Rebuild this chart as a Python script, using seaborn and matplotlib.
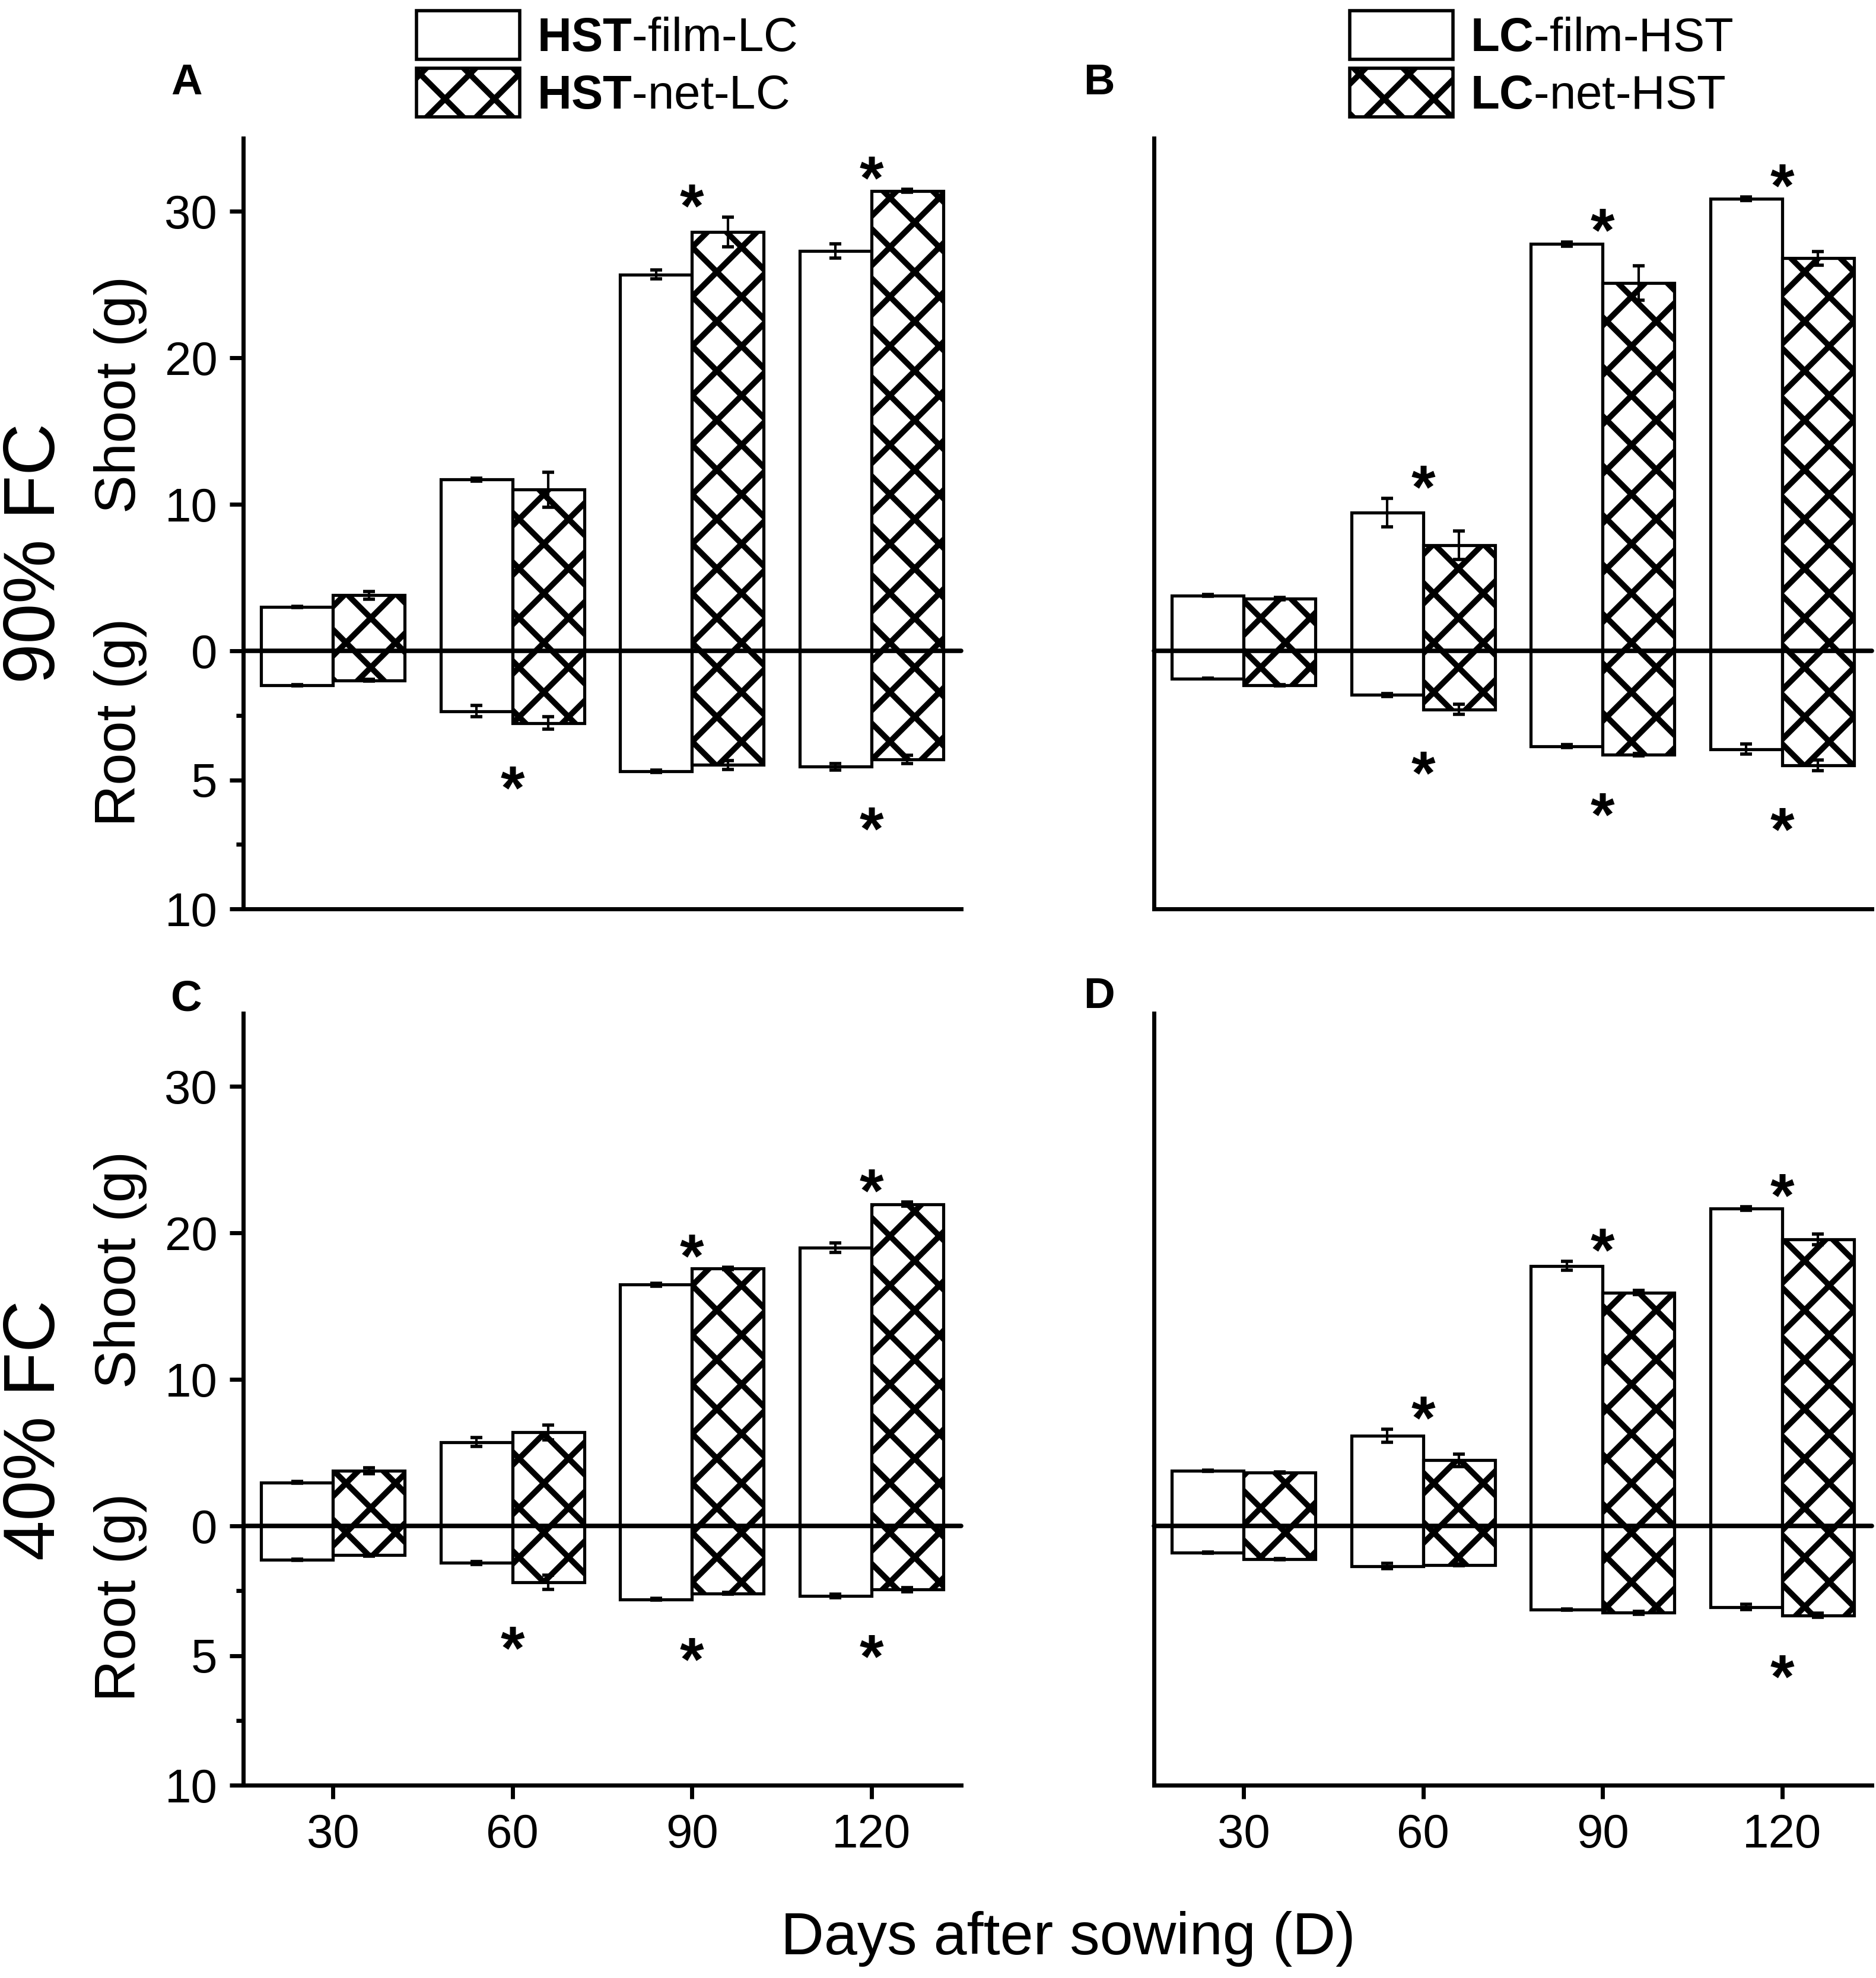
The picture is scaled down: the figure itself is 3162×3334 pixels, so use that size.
import matplotlib
matplotlib.use("Agg")
import matplotlib.pyplot as plt
from matplotlib.patches import Patch
import numpy as np
import pandas as pd
import seaborn as sns

DAYS = ["30", "60", "90", "120"]
COVERS = ["film", "net"]

# Panel A: 90% FC, HST-film/net-LC
A_SHOOT_FILM = [3.0, 11.7, 25.7, 27.3]
A_SHOOT_FILM_ERR = [0.05, 0.1, 0.3, 0.5]
A_SHOOT_NET = [3.8, 11.0, 28.6, 31.4]
A_SHOOT_NET_ERR = [0.27, 1.2, 1.0, 0.1]
A_ROOT_FILM = [1.33, 2.34, 4.67, 4.49]
A_ROOT_FILM_ERR = [0.03, 0.22, 0.04, 0.12]
A_ROOT_NET = [1.14, 2.8, 4.42, 4.21]
A_ROOT_NET_ERR = [0.03, 0.24, 0.17, 0.16]
A_SIG_SHOOT = [False, False, True, True]
A_SIG_ROOT = [False, True, False, True]

# Panel B: 90% FC, LC-film/net-HST
B_SHOOT_FILM = [3.78, 9.44, 27.78, 30.86]
B_SHOOT_FILM_ERR = [0.05, 0.96, 0.15, 0.12]
B_SHOOT_NET = [3.57, 7.22, 25.11, 26.8]
B_SHOOT_NET_ERR = [0.08, 0.98, 1.17, 0.47]
B_ROOT_FILM = [1.07, 1.71, 3.69, 3.81]
B_ROOT_FILM_ERR = [0.02, 0.05, 0.05, 0.19]
B_ROOT_NET = [1.33, 2.27, 4.02, 4.44]
B_ROOT_NET_ERR = [0.03, 0.19, 0.05, 0.21]
B_SIG_SHOOT = [False, True, True, True]
B_SIG_ROOT = [False, True, True, True]

# Panel C: 40% FC, HST-film/net-LC
C_SHOOT_FILM = [2.97, 5.73, 16.47, 19.0]
C_SHOOT_FILM_ERR = [0.05, 0.29, 0.1, 0.31]
C_SHOOT_NET = [3.77, 6.39, 17.58, 21.97]
C_SHOOT_NET_ERR = [0.2, 0.5, 0.08, 0.15]
C_ROOT_FILM = [1.3, 1.43, 2.83, 2.7]
C_ROOT_FILM_ERR = [0.02, 0.06, 0.04, 0.06]
C_ROOT_NET = [1.13, 2.18, 2.6, 2.45]
C_ROOT_NET_ERR = [0.03, 0.27, 0.04, 0.08]
C_SIG_SHOOT = [False, False, True, True]
C_SIG_ROOT = [False, True, True, True]

# Panel D: 40% FC, LC-film/net-HST
D_SHOOT_FILM = [3.77, 6.17, 17.75, 21.66]
D_SHOOT_FILM_ERR = [0.03, 0.44, 0.3, 0.12]
D_SHOOT_NET = [3.64, 4.48, 15.93, 19.57]
D_SHOOT_NET_ERR = [0.05, 0.44, 0.15, 0.35]
D_ROOT_FILM = [1.03, 1.55, 3.23, 3.13]
D_ROOT_FILM_ERR = [0.02, 0.1, 0.03, 0.1]
D_ROOT_NET = [1.28, 1.5, 3.35, 3.45]
D_ROOT_NET_ERR = [0.02, 0.03, 0.06, 0.08]
D_SIG_SHOOT = [False, True, True, True]
D_SIG_ROOT = [False, False, False, True]

LEGEND_LEFT = [r"$\mathbf{HST}$-film-LC", r"$\mathbf{HST}$-net-LC"]
LEGEND_RIGHT = [r"$\mathbf{LC}$-film-HST", r"$\mathbf{LC}$-net-HST"]

FIG_W, FIG_H, DPI = 3162, 3334, 500
EDGE_LW = 0.75
HATCH = "xx"
STAR_FS = 15
SHOOT_GAP = 1.8
ROOT_GAP = 1.7

sns.set_theme(style="ticks")
plt.rcParams.update({
    "font.family": ["Liberation Sans", "DejaVu Sans"],
    "mathtext.fontset": "custom",
    "mathtext.rm": "Liberation Sans",
    "mathtext.bf": "Liberation Sans:bold",
    "font.size": 11.5,
    "text.color": "black",
    "axes.labelcolor": "black",
    "axes.linewidth": 1.0,
    "axes.edgecolor": "black",
    "xtick.labelsize": 11.5,
    "ytick.labelsize": 11.5,
    "xtick.color": "black",
    "ytick.color": "black",
    "xtick.major.size": 3.3,
    "ytick.major.size": 3.3,
    "ytick.minor.size": 1.8,
    "xtick.major.width": 1.0,
    "ytick.major.width": 1.0,
    "ytick.minor.width": 1.0,
    "xtick.major.pad": 3.5,
    "ytick.major.pad": 3.0,
    "xtick.direction": "out",
    "ytick.direction": "out",
    "hatch.linewidth": 1.4,
    "hatch.color": "black",
})


def make_frame(shoot_film, shoot_net, root_film, root_net):
    rows = []
    for i, day in enumerate(DAYS):
        rows.append({"day": day, "cover": "film", "shoot": shoot_film[i], "root": root_film[i]})
        rows.append({"day": day, "cover": "net", "shoot": shoot_net[i], "root": root_net[i]})
    return pd.DataFrame(rows)


def px_box(left, top, right, bottom):
    return [left / FIG_W, 1 - bottom / FIG_H, (right - left) / FIG_W, (bottom - top) / FIG_H]


def draw_bars(ax, df, col, errs):
    sns.barplot(data=df, x="day", y=col, hue="cover", order=DAYS, hue_order=COVERS,
                palette={"film": "white", "net": "white"}, saturation=1,
                edgecolor="black", linewidth=EDGE_LW, errorbar=None,
                width=0.8, legend=False, ax=ax)
    for cover, cont, err in zip(COVERS, ax.containers, errs):
        xs = [p.get_x() + p.get_width() / 2 for p in cont]
        vals = df.loc[df["cover"] == cover, col].to_numpy()
        if cover == "net":
            for p in cont:
                p.set_hatch(HATCH)
        ax.errorbar(xs, vals, yerr=err, fmt="none", ecolor="black", elinewidth=0.6,
                    capsize=1.4, capthick=0.8, zorder=5)


def add_stars(ax, film, film_err, net, net_err, flags, gap):
    tops = np.maximum(np.add(film, film_err), np.add(net, net_err))
    for i, (top, flag) in enumerate(zip(tops, flags)):
        if flag:
            ax.annotate("*", xy=(i, top + gap), xytext=(0, -0.58 * STAR_FS),
                        textcoords="offset points", ha="center", va="baseline",
                        fontsize=STAR_FS, fontweight="bold", annotation_clip=False)


def draw_panel(fig, box_x, box_y, data, show_y, show_x):
    (sf, sfe, sn, sne, rf, rfe, rn, rne, sig_s, sig_r) = data
    left, right = box_x
    top, zero, bottom = box_y
    ax_s = fig.add_axes(px_box(left, top, right, zero))
    ax_r = fig.add_axes(px_box(left, zero, right, bottom))
    for ax in (ax_s, ax_r):
        ax.set_facecolor("none")
    # shoot axes (with the zero line) drawn above the root bars
    ax_s.set_zorder(ax_r.get_zorder() + 1)
    df = make_frame(sf, sn, rf, rn)

    draw_bars(ax_s, df, "shoot", [sfe, sne])
    draw_bars(ax_r, df, "root", [rfe, rne])

    ax_s.set_ylim(0, 35)
    ax_r.set_ylim(10, 0)
    ax_s.set_xlim(-0.5, 3.5)
    ax_r.set_xlim(-0.5, 3.5)
    ax_s.axhline(0, color="black", lw=1.1, clip_on=False, zorder=6)

    sns.despine(ax=ax_s, bottom=True)
    sns.despine(ax=ax_r)
    ax_s.tick_params(axis="x", bottom=False, labelbottom=False)
    ax_s.set_xlabel("")
    ax_r.set_xlabel("")

    if show_y:
        ax_s.set_yticks([0, 10, 20, 30])
        ax_r.set_yticks([5, 10])
        ax_r.set_yticks([2.5, 7.5], minor=True)
        ax_s.set_ylabel("Shoot (g)", fontsize=14)
        ax_r.set_ylabel("Root (g)", fontsize=14)
        ax_s.yaxis.set_label_coords(-0.134, 0.5)
        ax_r.yaxis.set_label_coords(-0.134, 0.724)
    else:
        ax_s.set_ylabel("")
        ax_r.set_ylabel("")
        ax_s.tick_params(axis="y", left=False, labelleft=False)
        ax_r.tick_params(axis="y", which="both", left=False, labelleft=False)

    if show_x:
        ax_r.tick_params(axis="x", bottom=True, labelbottom=True)
    else:
        ax_r.tick_params(axis="x", bottom=False, labelbottom=False)

    add_stars(ax_s, sf, sfe, sn, sne, sig_s, SHOOT_GAP)
    add_stars(ax_r, rf, rfe, rn, rne, sig_r, ROOT_GAP)


fig = plt.figure(figsize=(FIG_W / DPI, FIG_H / DPI), dpi=DPI)

COL_LEFT = (410, 1620)
COL_RIGHT = (1945, 3155)
ROW_TOP = (233, 1097, 1532)
ROW_BOTTOM = (1708, 2572, 3009)

draw_panel(fig, COL_LEFT, ROW_TOP,
           (A_SHOOT_FILM, A_SHOOT_FILM_ERR, A_SHOOT_NET, A_SHOOT_NET_ERR,
            A_ROOT_FILM, A_ROOT_FILM_ERR, A_ROOT_NET, A_ROOT_NET_ERR, A_SIG_SHOOT, A_SIG_ROOT),
           show_y=True, show_x=False)
draw_panel(fig, COL_RIGHT, ROW_TOP,
           (B_SHOOT_FILM, B_SHOOT_FILM_ERR, B_SHOOT_NET, B_SHOOT_NET_ERR,
            B_ROOT_FILM, B_ROOT_FILM_ERR, B_ROOT_NET, B_ROOT_NET_ERR, B_SIG_SHOOT, B_SIG_ROOT),
           show_y=False, show_x=False)
draw_panel(fig, COL_LEFT, ROW_BOTTOM,
           (C_SHOOT_FILM, C_SHOOT_FILM_ERR, C_SHOOT_NET, C_SHOOT_NET_ERR,
            C_ROOT_FILM, C_ROOT_FILM_ERR, C_ROOT_NET, C_ROOT_NET_ERR, C_SIG_SHOOT, C_SIG_ROOT),
           show_y=True, show_x=True)
draw_panel(fig, COL_RIGHT, ROW_BOTTOM,
           (D_SHOOT_FILM, D_SHOOT_FILM_ERR, D_SHOOT_NET, D_SHOOT_NET_ERR,
            D_ROOT_FILM, D_ROOT_FILM_ERR, D_ROOT_NET, D_ROOT_NET_ERR, D_SIG_SHOOT, D_SIG_ROOT),
           show_y=False, show_x=True)

# panel letters
for letter, (x, y) in zip("ABCD", [(314, 140), (1852, 140), (314, 1685), (1852, 1680)]):
    fig.text(x / FIG_W, 1 - y / FIG_H, letter, fontsize=10.5, fontweight="bold",
             ha="center", va="center")

# row labels
fig.text(60 / FIG_W, 1 - 932 / FIG_H, "90% FC", rotation=90, fontsize=17.5,
         ha="center", va="center")
fig.text(60 / FIG_W, 1 - 2410 / FIG_H, "40% FC", rotation=90, fontsize=17.5,
         ha="center", va="center")
fig.text(1800 / FIG_W, 1 - 3268 / FIG_H, "Days after sowing (D)", fontsize=14.5,
         ha="center", va="center")

# legends
handles = [Patch(facecolor="white", edgecolor="black", linewidth=0.8),
           Patch(facecolor="white", edgecolor="black", linewidth=0.8, hatch=HATCH)]
for labels, x in [(LEGEND_LEFT, 702), (LEGEND_RIGHT, 2275)]:
    fig.legend(handles, labels, loc="upper left", bbox_to_anchor=(x / FIG_W, 1 - 18 / FIG_H),
               frameon=False, fontsize=11.5, handlelength=2.18, handleheight=1.2,
               handletextpad=0.36, labelspacing=0.15, borderpad=0, borderaxespad=0)

fig.savefig("out.png", dpi=DPI)
